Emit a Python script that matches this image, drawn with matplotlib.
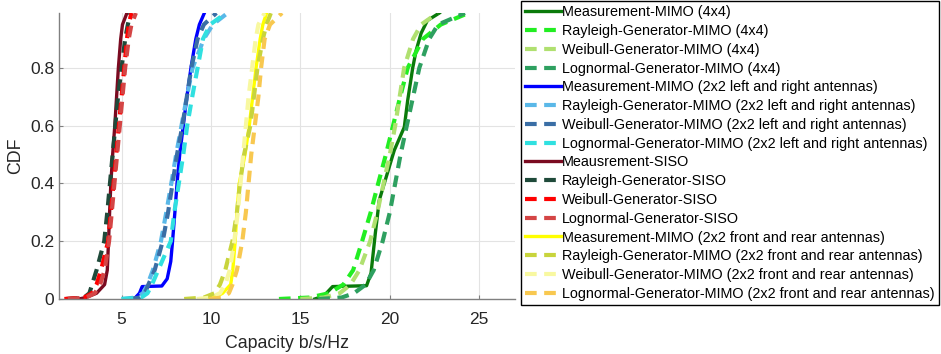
import matplotlib
matplotlib.use("Agg")
import matplotlib.pyplot as plt

plt.rcParams['font.family'] = ['Liberation Sans', 'DejaVu Sans']

# Common CDF levels for the generator (fitted model) curves
cdf_levels = [0, 0.005, 0.02, 0.05, 0.1, 0.2, 0.3, 0.4, 0.5, 0.6, 0.7, 0.8, 0.9, 0.95, 0.99]

# ---- MIMO 4x4 ----
meas_4x4_cap = [15.8, 16.3, 16.8, 18.7, 18.95, 19.19, 19.41, 19.69, 20.25, 20.81, 21.0, 21.28, 21.47, 21.75, 22.1, 22.77]
meas_4x4_cdf = [0, 0.01, 0.043, 0.046, 0.09, 0.228, 0.342, 0.40, 0.515, 0.595, 0.688, 0.80, 0.86, 0.92, 0.964, 0.99]
rayleigh_4x4 = [13.8, 15.5, 16.6, 17.4, 17.95, 18.45, 18.93, 19.35, 19.78, 20.18, 20.58, 21.0, 21.85, 22.85, 24.4]
weibull_4x4 = [15.0, 16.3, 17.2, 17.8, 18.3, 18.9, 19.3, 19.65, 20.0, 20.3, 20.55, 20.8, 21.3, 21.75, 22.67]
lognormal_4x4 = [16.0, 17.3, 18.0, 18.65, 19.1, 19.6, 20.0, 20.3, 20.6, 20.95, 21.3, 21.65, 22.2, 22.7, 24.2]

# ---- MIMO 2x2 left and right antennas ----
meas_lr_cap = [5.7, 6.0, 6.15, 7.25, 7.55, 7.75, 7.85, 7.98, 8.1, 8.25, 8.45, 8.65, 8.88, 9.15, 9.35, 9.63]
meas_lr_cdf = [0, 0.02, 0.043, 0.045, 0.07, 0.13, 0.2, 0.3, 0.4, 0.5, 0.6, 0.7, 0.8, 0.9, 0.95, 0.99]
rayleigh_lr = [5.0, 5.8, 6.2, 6.45, 6.75, 7.2, 7.5, 7.78, 8.05, 8.35, 8.65, 8.97, 9.6, 10.1, 10.93]
weibull_lr = [5.4, 6.0, 6.3, 6.5, 6.85, 7.3, 7.6, 7.85, 8.1, 8.4, 8.65, 8.9, 9.25, 9.6, 10.3]
lognormal_lr = [5.0, 6.1, 6.45, 6.7, 7.05, 7.75, 7.95, 8.2, 8.45, 8.67, 8.95, 9.25, 9.55, 9.95, 10.84]

# ---- SISO ----
meas_siso = [2.6, 3.0, 3.6, 4.05, 4.2, 4.27, 4.33, 4.4, 4.5, 4.62, 4.72, 4.82, 4.95, 5.05, 5.3]
rayleigh_siso = [1.9, 2.9, 3.2, 3.35, 3.6, 4.03, 4.2, 4.35, 4.5, 4.65, 4.8, 5.0, 5.2, 5.35, 5.5]
weibull_siso = [1.8, 2.9, 3.35, 3.6, 3.85, 4.25, 4.4, 4.55, 4.7, 4.85, 5.0, 5.15, 5.3, 5.4, 5.55]
lognormal_siso = [2.0, 3.0, 3.5, 3.8, 4.05, 4.3, 4.45, 4.6, 4.75, 4.9, 5.05, 5.2, 5.4, 5.55, 5.8]

# ---- MIMO 2x2 front and rear antennas ----
meas_fr = [9.6, 10.2, 10.65, 11.1, 11.22, 11.35, 11.45, 11.58, 11.9, 12.14, 12.33, 12.52, 12.75, 12.9, 13.11]
rayleigh_fr = [8.5, 9.6, 10.2, 10.5, 10.8, 11.2, 11.45, 11.62, 11.85, 12.2, 12.4, 12.6, 12.9, 13.1, 13.35]
weibull_fr = [9.2, 10.0, 10.5, 10.8, 11.05, 11.3, 11.5, 11.65, 11.8, 11.95, 12.1, 12.3, 12.5, 12.65, 13.0]
lognormal_fr = [9.9, 10.6, 11.0, 11.2, 11.45, 11.75, 11.95, 12.1, 12.25, 12.45, 12.65, 12.8, 13.0, 13.3, 13.97]

series = [
    ("Measurement-MIMO (4x4)", meas_4x4_cap, meas_4x4_cdf, "#0a7a0a", "-"),
    ("Rayleigh-Generator-MIMO (4x4)", rayleigh_4x4, cdf_levels, "#22ee22", "--"),
    ("Weibull-Generator-MIMO (4x4)", weibull_4x4, cdf_levels, "#b0e070", "--"),
    ("Lognormal-Generator-MIMO (4x4)", lognormal_4x4, cdf_levels, "#2ea060", "--"),
    ("Measurement-MIMO (2x2 left and right antennas)", meas_lr_cap, meas_lr_cdf, "#0000ff", "-"),
    ("Rayleigh-Generator-MIMO (2x2 left and right antennas)", rayleigh_lr, cdf_levels, "#5ab8e8", "--"),
    ("Weibull-Generator-MIMO (2x2 left and right antennas)", weibull_lr, cdf_levels, "#3a6ea5", "--"),
    ("Lognormal-Generator-MIMO (2x2 left and right antennas)", lognormal_lr, cdf_levels, "#30e0e0", "--"),
    ("Meausrement-SISO", meas_siso, cdf_levels, "#7a0a20", "-"),
    ("Rayleigh-Generator-SISO", rayleigh_siso, cdf_levels, "#1f4a3a", "--"),
    ("Weibull-Generator-SISO", weibull_siso, cdf_levels, "#ff0000", "--"),
    ("Lognormal-Generator-SISO", lognormal_siso, cdf_levels, "#d44545", "--"),
    ("Measurement-MIMO (2x2 front and rear antennas)", meas_fr, cdf_levels, "#ffff00", "-"),
    ("Rayleigh-Generator-MIMO (2x2 front and rear antennas)", rayleigh_fr, cdf_levels, "#c8d43c", "--"),
    ("Weibull-Generator-MIMO (2x2 front and rear antennas)", weibull_fr, cdf_levels, "#f8f8a0", "--"),
    ("Lognormal-Generator-MIMO (2x2 front and rear antennas)", lognormal_fr, cdf_levels, "#f8c850", "--"),
]

fig = plt.figure(figsize=(9.41, 3.54), dpi=100)
ax = fig.add_axes([59 / 941, 1 - 299 / 354, (515 - 59) / 941, (299 - 13) / 354])

for label, cap, cdf, color, ls in series:
    if ls == "-":
        ax.plot(cap, cdf, color=color, lw=2.4, ls="-", label=label, solid_joinstyle="round")
    else:
        ax.plot(cap, cdf, color=color, lw=3.0, ls=(0, (2.8, 1.8)), label=label)

ax.set_xlim(1.5, 27)
ax.set_ylim(0, 0.99)
ax.set_xticks([5, 10, 15, 20, 25])
ax.set_yticks([0, 0.2, 0.4, 0.6, 0.8])
ax.set_yticklabels(["0", "0.2", "0.4", "0.6", "0.8"])
ax.grid(True, color="#e3e3e3", lw=0.8)
ax.set_axisbelow(True)
for side in ("top", "right"):
    ax.spines[side].set_visible(False)
for side in ("left", "bottom"):
    ax.spines[side].set_color("#808080")
    ax.spines[side].set_linewidth(1.0)
ax.tick_params(direction="in", length=3, color="#808080", labelsize=12.5, labelcolor="#262626")
ax.tick_params(axis="x", pad=9)
ax.tick_params(axis="y", pad=3.5)
ax.set_xlabel("Capacity b/s/Hz", fontsize=12.8, color="#262626", labelpad=6)
ax.set_ylabel("CDF", fontsize=12.8, color="#262626", labelpad=4)

handles, labels = ax.get_legend_handles_labels()
leg = fig.legend(handles, labels, loc="upper left", bbox_to_anchor=(521 / 941, 1 - 1 / 354),
                 borderaxespad=0, fontsize=10.4, frameon=True, fancybox=False,
                 edgecolor="black", framealpha=1, handlelength=2.5, handletextpad=0.05,
                 labelspacing=0.33, borderpad=0.3)
leg.get_frame().set_linewidth(1.0)

fig.savefig("out.png", dpi=100)
